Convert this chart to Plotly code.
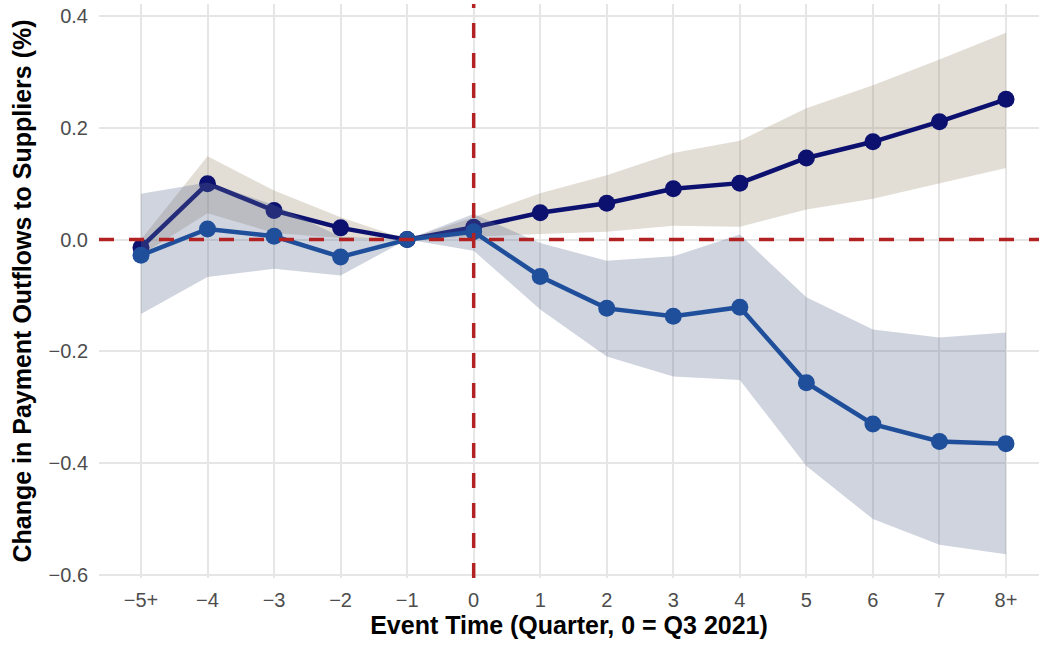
import plotly.graph_objects as go

categories = ["−5+", "−4", "−3", "−2", "−1", "0", "1", "2", "3", "4", "5", "6", "7", "8+"]

# Series A (dark navy, rising)
a_est = [-0.014, 0.100, 0.052, 0.021, 0.0, 0.022, 0.048, 0.065, 0.091, 0.101, 0.146, 0.175, 0.211, 0.251]
a_hi = [0.000, 0.149, 0.088, 0.040, 0.0, 0.040, 0.083, 0.115, 0.155, 0.177, 0.235, 0.276, 0.322, 0.370]
a_lo = [-0.028, 0.047, 0.012, 0.003, 0.0, 0.005, 0.010, 0.014, 0.025, 0.023, 0.054, 0.073, 0.100, 0.128]

# Series B (blue, falling)
b_est = [-0.028, 0.019, 0.006, -0.031, 0.0, 0.014, -0.066, -0.123, -0.137, -0.121, -0.256, -0.330, -0.361, -0.365]
b_hi = [0.082, 0.102, 0.062, 0.005, 0.0, 0.046, -0.006, -0.038, -0.030, 0.009, -0.103, -0.161, -0.175, -0.166]
b_lo = [-0.133, -0.067, -0.052, -0.064, 0.0, -0.020, -0.125, -0.209, -0.245, -0.251, -0.405, -0.500, -0.546, -0.563]

y_tickvals = [0.4, 0.2, 0.0, -0.2, -0.4, -0.6]

NAVY = "#0C1170"
BLUE = "#1F4E9A"
BEIGE = "rgba(158,142,115,0.3)"
GREYBAND = "rgba(95,112,148,0.3)"
RED = "#B22222"

fig = go.Figure()

fig.add_trace(go.Scatter(
    x=categories + categories[::-1], y=a_hi + a_lo[::-1],
    fill="toself", fillcolor=BEIGE, line=dict(width=0), mode="lines",
    hoverinfo="skip", showlegend=False))
fig.add_trace(go.Scatter(
    x=categories, y=a_est, mode="lines+markers",
    line=dict(color=NAVY, width=4.5), marker=dict(color=NAVY, size=17),
    showlegend=False))
fig.add_trace(go.Scatter(
    x=categories + categories[::-1], y=b_hi + b_lo[::-1],
    fill="toself", fillcolor=GREYBAND, line=dict(width=0), mode="lines",
    hoverinfo="skip", showlegend=False))
fig.add_trace(go.Scatter(
    x=categories, y=b_est, mode="lines+markers",
    line=dict(color=BLUE, width=4.5), marker=dict(color=BLUE, size=17),
    showlegend=False))

fig.add_shape(type="line", xref="paper", x0=0, x1=1, yref="y", y0=0, y1=0,
              line=dict(color=RED, width=3.5, dash="15px,15px"), layer="above")
fig.add_shape(type="line", xref="x", x0=5, x1=5, yref="paper", y0=0, y1=1,
              line=dict(color=RED, width=3.5, dash="15px,15px"), layer="above")

fig.update_layout(
    width=1039, height=646,
    margin=dict(l=99, r=0, t=4, b=68, autoexpand=False),
    paper_bgcolor="white", plot_bgcolor="white",
    font=dict(family="Liberation Sans, Arial, sans-serif"),
    showlegend=False,
)
fig.update_xaxes(
    type="category", categoryorder="array", categoryarray=categories,
    range=[-0.631, 13.496], automargin=False,
    showgrid=True, gridcolor="#E6E6E6", gridwidth=1.5, zeroline=False,
    showline=False, ticks="", ticklabelstandoff=8,
    tickfont=dict(size=20, color="#4D4D4D"),
    title=dict(text="<b>Event Time (Quarter, 0 = Q3 2021)</b>",
               font=dict(size=25, color="black"), standoff=4),
)
fig.update_yaxes(
    range=[-0.6054, 0.4215], automargin=False,
    tickvals=y_tickvals, tickformat=".1f",
    showgrid=True, gridcolor="#E6E6E6", gridwidth=1.5, zeroline=False,
    showline=False, ticks="", ticklabelstandoff=10, ticklabeloverflow="allow",
    tickfont=dict(size=20, color="#4D4D4D"),
    title=dict(text="<b>Change in Payment Outflows to Suppliers (%)</b>",
               font=dict(size=25, color="black"), standoff=9),
)

fig.write_html("out.html", config={"displayModeBar": False},
               post_script="document.body.style.margin='0px';")
